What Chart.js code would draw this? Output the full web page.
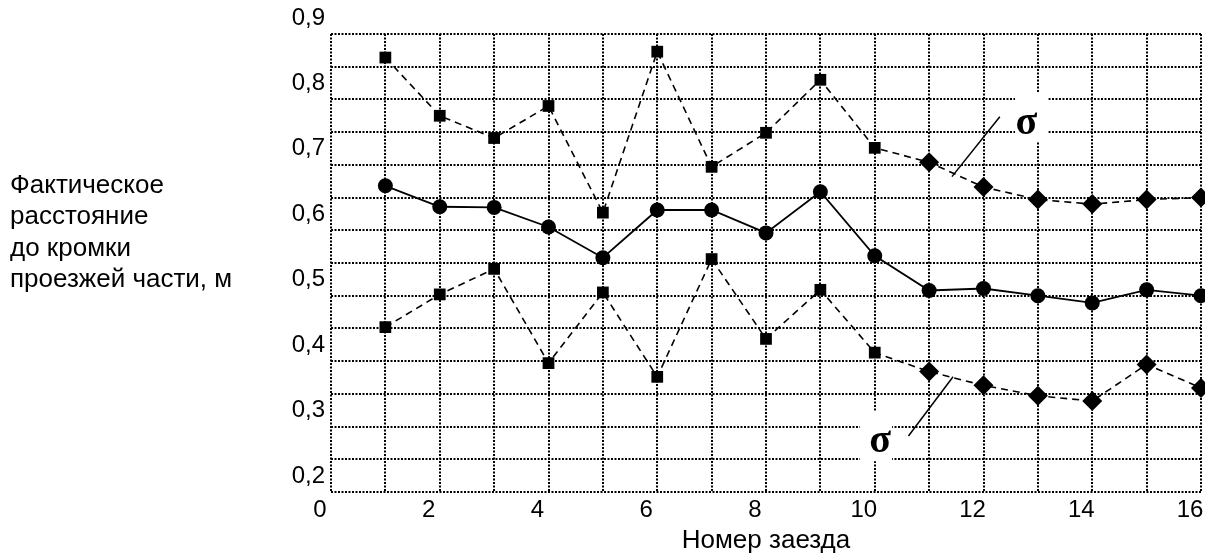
<!DOCTYPE html>
<html>
<head>
<meta charset="utf-8">
<script src="https://cdn.jsdelivr.net/npm/chart.js@4/dist/chart.umd.min.js"></script>
<style>
  body { margin: 0; background: #fff; }
</style>
</head>
<body>
<canvas id="chart" width="1205" height="556"></canvas>
<script>
const ctx = document.getElementById('chart').getContext('2d');

// run numbers and measured distances (m)
const runs = [1, 2, 3, 4, 5, 6, 7, 8, 9, 10, 11, 12, 13, 14, 15, 16];
const meanDistance = [0.643, 0.611, 0.610, 0.580, 0.533, 0.606, 0.606, 0.571, 0.634, 0.536, 0.483, 0.486, 0.475, 0.464, 0.484, 0.475];
const upperSigma = [0.839, 0.750, 0.716, 0.765, 0.602, 0.848, 0.672, 0.724, 0.805, 0.701, 0.679, 0.641, 0.622, 0.615, 0.622, 0.625];
const lowerSigma = [0.427, 0.477, 0.516, 0.372, 0.480, 0.351, 0.531, 0.409, 0.484, 0.388, 0.359, 0.338, 0.322, 0.314, 0.370, 0.334];

const xTickLabels = ['0', '2', '4', '6', '8', '10', '12', '14', '16'];
const yTickLabels = ['0,2', '0,3', '0,4', '0,5', '0,6', '0,7', '0,8', '0,9'];
const yTitleLines = ['Фактическое', 'расстояние', 'до кромки', 'проезжей части, м'];
const xTitle = 'Номер заезда';

const font = '"Liberation Sans", Arial, sans-serif';

// sigma callouts, in data units
const sigmaNotes = [
    { x: 12.79, y: 0.7385, box: [12.58, 13.19, 0.7864, 0.7115], line: [12.30, 0.7486, 11.42, 0.657] },
    { x: 10.10, y: 0.2519, box: [9.73, 10.32, 0.299, 0.222], line: [10.62, 0.2606, 11.44, 0.3512] }
];

const notesPlugin = {
    id: 'notes',
    beforeDatasetsDraw(chart) {
        const c = chart.ctx;
        const xs = chart.scales.x;
        const ys = chart.scales.y;
        c.save();
        c.fillStyle = '#000';
        c.font = '26px ' + font;
        c.textBaseline = 'middle';
        c.textAlign = 'left';
        yTitleLines.forEach((line, i) => c.fillText(line, 10, 186 + i * 31.3));

        sigmaNotes.forEach(n => {
            const bx1 = xs.getPixelForValue(n.box[0]);
            const bx2 = xs.getPixelForValue(n.box[1]);
            const by1 = ys.getPixelForValue(n.box[2]);
            const by2 = ys.getPixelForValue(n.box[3]);
            c.fillStyle = '#fff';
            c.fillRect(bx1, by1, bx2 - bx1, by2 - by1);
            c.fillStyle = '#000';
            c.font = 'bold 40px "Liberation Serif", "DejaVu Serif", serif';
            c.textAlign = 'center';
            c.fillText('σ', xs.getPixelForValue(n.x), ys.getPixelForValue(n.y));
            c.strokeStyle = '#000';
            c.lineWidth = 1.5;
            c.beginPath();
            c.moveTo(xs.getPixelForValue(n.line[0]), ys.getPixelForValue(n.line[1]));
            c.lineTo(xs.getPixelForValue(n.line[2]), ys.getPixelForValue(n.line[3]));
            c.stroke();
        });
        c.restore();
    }
};

const markerStyle = (c) => c.dataIndex < 10 ? 'rect' : 'rectRot';
const markerSize = (c) => c.dataIndex < 10 ? 8.3 : 10;

function sigmaSet(values) {
    return {
        data: values,
        borderColor: '#000',
        backgroundColor: '#000',
        borderWidth: 1.6,
        borderDash: [7, 5],
        pointStyle: markerStyle,
        pointRadius: markerSize,
        pointBorderWidth: 0,
        tension: 0,
        clip: false
    };
}

new Chart(ctx, {
    type: 'line',
    data: {
        labels: runs,
        datasets: [
            {
                data: meanDistance,
                borderColor: '#000',
                backgroundColor: '#000',
                borderWidth: 1.8,
                pointStyle: 'circle',
                pointRadius: 7.5,
                pointBorderWidth: 0,
                tension: 0,
                clip: false
            },
            sigmaSet(upperSigma),
            sigmaSet(lowerSigma)
        ]
    },
    options: {
        responsive: false,
        animation: false,
        layout: { autoPadding: false, padding: { top: 34, right: 4, left: 0, bottom: 0 } },
        plugins: {
            legend: { display: false },
            tooltip: { enabled: false }
        },
        scales: {
            x: {
                type: 'linear',
                min: 0,
                max: 16,
                afterFit: (scale) => {
                    scale.height = 64;
                    scale.paddingLeft = 0;
                    scale.paddingRight = 0;
                },
                grid: { color: '#000', lineWidth: 2, drawTicks: false },
                border: { display: false, dash: [2, 1.5] },
                ticks: {
                    stepSize: 1,
                    autoSkip: false,
                    maxRotation: 0,
                    labelOffset: -11,
                    padding: 4,
                    color: '#000',
                    font: { family: font, size: 24 },
                    callback: (value) => value % 2 === 0 ? xTickLabels[value / 2] : ''
                },
                title: {
                    display: true,
                    text: xTitle,
                    color: '#000',
                    font: { family: font, size: 26 },
                    padding: { top: 0, bottom: 0 }
                }
            },
            y: {
                min: 0.175,
                max: 0.875,
                afterFit: (scale) => {
                    scale.width = 331;
                    scale.paddingTop = 0;
                    scale.paddingBottom = 0;
                },
                afterBuildTicks: (axis) => {
                    const t = [];
                    for (let i = 0; i <= 14; i++) t.push({ value: +(0.175 + 0.05 * i).toFixed(3) });
                    axis.ticks = t;
                },
                grid: { color: '#000', lineWidth: 2, drawTicks: false },
                border: { display: false, dash: [2, 1.5] },
                ticks: {
                    autoSkip: false,
                    labelOffset: -16,
                    padding: 6,
                    color: '#000',
                    font: { family: font, size: 24 },
                    callback: (value, index) => index % 2 === 0 ? yTickLabels[index / 2] : ''
                }
            }
        }
    },
    plugins: [notesPlugin]
});
</script>
</body>
</html>
